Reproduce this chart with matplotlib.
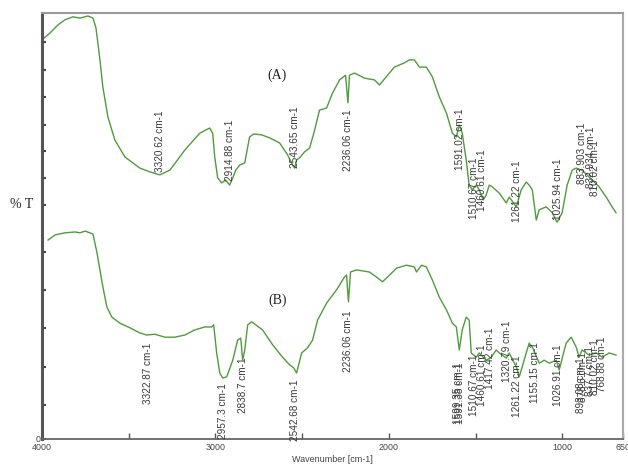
import matplotlib
matplotlib.use("Agg")
import matplotlib.pyplot as plt

plt.rcParams['font.family'] = ['Liberation Sans', 'DejaVu Sans']

# ---------------- data (wavenumber in cm-1, transmittance in arbitrary %T) ----------------
wn_a = [4000, 3954, 3908, 3868, 3822, 3781, 3735, 3706, 3689, 3678, 3666, 3649, 3620, 3580,
        3522, 3436, 3378, 3321, 3263, 3177, 3090, 3033, 3016, 3004, 2987, 2964, 2941, 2918,
        2900, 2883, 2860, 2831, 2803, 2780, 2734, 2688, 2630, 2584, 2555, 2543, 2532, 2515,
        2486, 2457, 2428, 2400, 2359, 2325, 2284, 2250, 2236, 2227, 2198, 2140, 2083, 2054,
        1997, 1968, 1910, 1881, 1853, 1824, 1784, 1749, 1709, 1668, 1634, 1611, 1594, 1577,
        1554, 1537, 1519, 1496, 1479, 1456, 1439, 1421, 1404, 1363, 1323, 1306, 1265, 1237,
        1208, 1191, 1173, 1150, 1133, 1093, 1058, 1030, 1001, 972, 943, 920, 886, 857, 828,
        788, 747, 713, 690]
t_a = [93.7, 95.3, 97.2, 98.4, 99.1, 98.8, 99.3, 98.8, 96.5, 93.0, 89.0, 82.6, 75.6, 70.2,
       66.2, 63.6, 62.7, 62.0, 63.1, 67.8, 71.8, 73.0, 71.8, 66.2, 61.3, 60.1, 60.8, 59.6,
       61.3, 63.1, 64.3, 64.8, 70.9, 71.6, 71.4, 70.7, 69.5, 66.7, 64.3, 63.6, 65.5, 66.0,
       67.4, 68.3, 72.5, 77.2, 77.7, 81.2, 84.3, 85.4, 78.9, 85.4, 85.9, 84.7, 84.3, 83.1,
       85.9, 87.3, 88.3, 89.0, 89.0, 87.3, 87.3, 85.0, 80.3, 76.5, 71.8, 70.9, 73.7, 71.8,
       65.5, 59.6, 58.5, 59.6, 58.5, 56.1, 57.3, 59.6, 59.2, 57.7, 55.4, 56.8, 54.5, 58.5,
       60.3, 59.6, 58.5, 51.4, 53.8, 54.5, 53.1, 50.9, 53.1, 59.6, 63.1, 63.6, 63.1, 62.0,
       60.8, 59.2, 56.8, 54.5, 53.1]

wn_b = [3965, 3925, 3868, 3810, 3781, 3752, 3724, 3706, 3683, 3666, 3649, 3626, 3597, 3551,
        3493, 3436, 3396, 3349, 3292, 3234, 3177, 3119, 3062, 3021, 3010, 2993, 2975, 2958,
        2935, 2900, 2872, 2854, 2843, 2831, 2814, 2791, 2728, 2670, 2613, 2572, 2549, 2532,
        2503, 2469, 2440, 2411, 2359, 2302, 2256, 2244, 2233, 2221, 2187, 2112, 2071, 2037,
        2008, 1956, 1899, 1853, 1841, 1812, 1784, 1749, 1709, 1668, 1634, 1611, 1594, 1577,
        1554, 1537, 1525, 1496, 1479, 1439, 1409, 1381, 1363, 1323, 1306, 1265, 1248, 1208,
        1191, 1173, 1133, 1104, 1075, 1035, 1018, 978, 949, 920, 903, 886, 845, 805, 770,
        730, 690]
t_b = [46.7, 47.9, 48.4, 48.6, 48.4, 48.8, 48.4, 48.1, 43.7, 39.7, 35.7, 31.0, 28.6, 27.2,
       26.1, 24.9, 24.4, 24.6, 23.9, 23.9, 24.4, 25.6, 26.3, 26.3, 26.8, 20.2, 15.5, 14.3,
       14.6, 18.5, 23.2, 23.7, 18.5, 20.9, 26.8, 27.5, 25.6, 22.1, 19.2, 17.4, 16.7, 15.5,
       20.2, 21.4, 23.2, 27.9, 31.9, 35.0, 38.0, 38.5, 32.2, 39.2, 39.7, 39.2, 38.0, 36.9,
       38.0, 40.1, 40.8, 40.4, 39.2, 40.8, 40.4, 37.3, 33.3, 30.3, 27.2, 26.3, 20.9, 25.6,
       28.6, 27.9, 20.2, 19.2, 20.2, 18.5, 19.2, 20.9, 20.2, 19.0, 20.2, 16.9, 14.6, 20.2,
       22.5, 21.6, 17.8, 18.5, 17.8, 18.5, 16.2, 22.5, 23.9, 21.6, 19.2, 20.9, 19.7, 20.2,
       19.2, 20.2, 19.7]

# peak annotations: position (cm-1), text
peaks_a = [3320.62, 2914.88, 2543.65, 2236.06, 1591.02, 1510.67, 1460.61, 1261.22, 1025.94,
           883.903, 832.934, 810.02]
peak_text_a = ["3320.62 cm-1", "2914.88 cm-1", "2543.65 cm-1", "2236.06 cm-1", "1591.02 cm-1",
               "1510.67 cm-1", "1460.61 cm-1", "1261.22 cm-1", "1025.94 cm-1", "883.903 cm-1",
               "832.934 cm-1", "810.02 cm-1"]
peaks_b = [3390, 2957.3, 2838.7, 2542.68, 2236.06, 1599.35, 1591.38, 1510.67, 1460.61, 1417.42,
           1320.79, 1261.22, 1155.15, 1026.91, 893.08, 878.6, 837.7, 810.02, 768.88]
peak_text_b = ["3322.87 cm-1", "2957.3 cm-1", "2838.7 cm-1", "2542.68 cm-1", "2236.06 cm-1",
               "1599.35 cm-1", "1591.38 cm-1", "1510.67 cm-1", "1460.61 cm-1", "1417.42 cm-1",
               "1320.79 cm-1", "1261.22 cm-1", "1155.15 cm-1", "1026.91 cm-1", "893.08 cm-1",
               "878.6 cm-1", "837.7 cm-1", "810.02 cm-1", "768.88 cm-1"]

x_ticks = [4000, 3500, 3000, 2500, 2000, 1500, 1000, 650]
x_tick_labels = ["4000", "", "3000", "", "2000", "", "1000", "650"]
y_ticks = [0, 8.0, 16.9, 26.1, 35.0, 43.9, 54.9, 61.3, 67.6, 73.7, 80.3, 86.6, 93.2]
y_tick_labels = ["0"] + [""] * 12

# label vertical placement (centre of the rotated text, in %T units)
label_y_a = [70.0, 67.8, 70.8, 70.2, 70.4, 58.9, 60.8, 58.2, 58.7, 67.1, 66.2, 63.6]
label_y_b = [15.5, 6.5, 12.7, 6.8, 23.0, 10.8, 10.8, 12.7, 15.0, 19.0, 20.5, 12.4, 15.5, 15.0,
             12.7, 14.5, 16.0, 17.0, 17.5]

# ---------------- figure ----------------
W, H = 628, 467
fig = plt.figure(figsize=(W / 100, H / 100), dpi=100)
ax = fig.add_axes([42 / W, 1 - 439 / H, (623 - 42) / W, (439 - 13) / H])

line_color = '#4f9c3c'
ax.plot(wn_a, t_a, color=line_color, lw=1.0)
ax.plot(wn_b, t_b, color=line_color, lw=1.0)

ax.set_xlim(4000, 650)
ax.set_ylim(0, 100)

lab_kw = dict(rotation=90, ha='center', va='center', fontsize=7.2, color='#3a3a3a')
for x, s, y in zip(peaks_a, peak_text_a, label_y_a):
    ax.text(x, y, s, **lab_kw)
for x, s, y in zip(peaks_b, peak_text_b, label_y_b):
    ax.text(x, y, s, **lab_kw)

serif = ['Liberation Serif', 'DejaVu Serif']
ax.text(2645, 85.5, "(A)", family=serif, fontsize=10, ha='center', va='center', color='#222222')
ax.text(2640, 32.5, "(B)", family=serif, fontsize=10, ha='center', va='center', color='#222222')
fig.text(22 / W, 1 - 205 / H, "% T", family=serif, fontsize=10, ha='center', va='center',
         color='#222222')

ax.set_xticks(x_ticks)
ax.set_xticklabels(x_tick_labels)
ax.set_yticks(y_ticks)
ax.set_yticklabels(y_tick_labels)
ax.tick_params(axis='x', direction='in', length=4, width=1, color='#555555', labelsize=6.4,
               labelcolor='#444444', pad=3)
ax.tick_params(axis='y', direction='in', length=3, width=1.5, color='#444444', labelsize=6.4,
               labelcolor='#444444', pad=1)
ax.set_xlabel("Wavenumber [cm-1]", fontsize=6.5, color='#444444', labelpad=2)

ax.spines['left'].set_linewidth(2.2)
ax.spines['left'].set_color('#555555')
ax.spines['bottom'].set_linewidth(1.3)
ax.spines['bottom'].set_color('#666666')
ax.spines['top'].set_linewidth(1.5)
ax.spines['top'].set_color('#999999')
ax.spines['right'].set_linewidth(1.5)
ax.spines['right'].set_color('#aaaaaa')

fig.savefig("out.png", dpi=100)
